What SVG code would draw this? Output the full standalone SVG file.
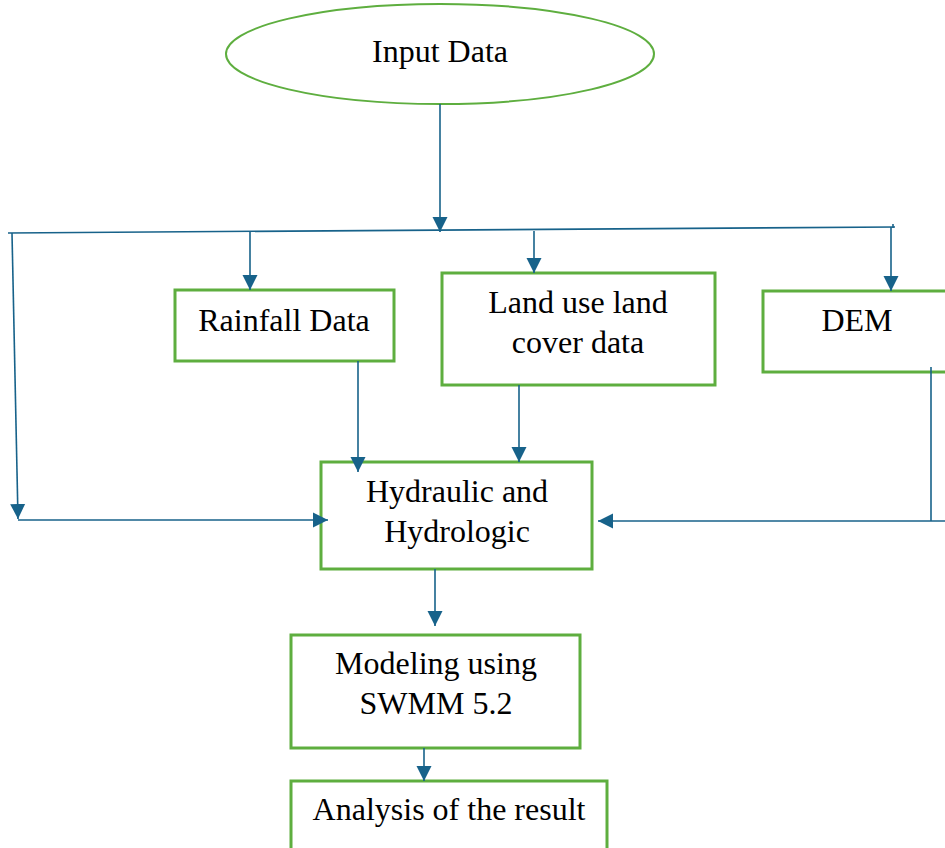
<svg xmlns="http://www.w3.org/2000/svg" width="945" height="848" viewBox="0 0 945 848">
<defs>
<marker id="ah" markerUnits="userSpaceOnUse" markerWidth="16" markerHeight="16" viewBox="0 0 16 16" refX="15" refY="8" orient="auto">
<path d="M0,0.5 L15,8 L0,15.5 Z" fill="#17628a"/>
</marker>
<style>
.box{fill:#fff;stroke:#5eae3f;stroke-width:3}
.ell{fill:#fff;stroke:#5eae3f;stroke-width:2}
.c{fill:none;stroke:#17628a;stroke-width:1.6}
.a{marker-end:url(#ah)}
text{font-family:"Liberation Serif","Times New Roman",serif;font-size:32px;fill:#000;text-anchor:middle}
</style>
</defs>
<rect width="945" height="848" fill="#fff"/>
<g id="input"><ellipse class="ell" cx="440" cy="54" rx="214" ry="50"/><text x="440" y="62">Input Data</text></g>
<g id="rainfall"><rect class="box" x="175" y="290" width="219" height="71"/><text x="284" y="331">Rainfall Data</text></g>
<g id="landuse"><rect class="box" x="442" y="273" width="273" height="112"/><text x="578" y="313">Land use land</text><text x="578" y="353">cover data</text></g>
<g id="dem"><rect class="box" x="763" y="291" width="190" height="81"/><text x="857" y="331">DEM</text></g>
<g id="hydraulic"><rect class="box" x="321" y="462" width="271" height="107"/><text x="457" y="502">Hydraulic and</text><text x="457" y="542">Hydrologic</text></g>
<g id="modeling"><rect class="box" x="291" y="635" width="289" height="113"/><text x="436" y="674">Modeling using</text><text x="436" y="714">SWMM 5.2</text></g>
<g id="analysis"><rect class="box" x="291" y="781" width="316" height="80"/><text x="449" y="820">Analysis of the result</text></g>
<g id="connectors">
<path class="c a" d="M440,104 L440,232"/>
<path class="c" d="M8,233 L895,227"/>
<path class="c" d="M893,224 L893,228"/>
<path class="c a" d="M12,233 L18,519"/>
<path class="c a" d="M250,232 L250,290"/>
<path class="c a" d="M534,231 L534,273"/>
<path class="c a" d="M891,227 L891,291"/>
<path class="c a" d="M358,361 L358,472"/>
<path class="c a" d="M519,385 L519,462"/>
<path class="c a" d="M18,520 L328,520"/>
<path class="c" d="M931,367 L931,521"/>
<path class="c a" d="M945,521 L598,521"/>
<path class="c a" d="M435,569 L435,626"/>
<path class="c a" d="M424,748 L424,781"/>
</g>
</svg>
